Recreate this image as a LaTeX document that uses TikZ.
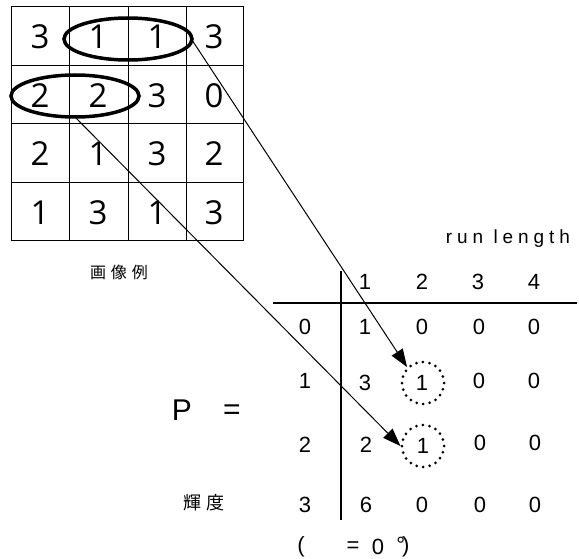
\documentclass[tikz,border=0pt]{standalone}
\usepackage{fontspec}
\usetikzlibrary{arrows.meta}
\newfontfamily\gridfont{Open Sans}
\newfontfamily\arial{Liberation Sans}
\newfontfamily\arialsp[LetterSpace=26]{Liberation Sans}
\newfontfamily\cjk[LetterSpace=30]{Noto Sans CJK JP}
\begin{document}
\begin{tikzpicture}[x=1pt,y=-1pt,
  cell/.style={font=\gridfont\fontsize{33}{33}\selectfont, inner sep=0pt},
  mval/.style={font=\arial\fontsize{22}{22}\selectfont, inner sep=0pt},
  dotcirc/.style={draw, circle, line width=3pt, dash pattern=on 0pt off 6.6pt, line cap=round, minimum size=42pt, inner sep=0pt},
  link/.style={line width=1pt, -{Triangle[length=18pt,width=13pt]}},
  rule/.style={line width=1.2pt}]
\useasboundingbox (0,0) rectangle (579,559);
% grid
\draw[line width=1pt] (11,7) rectangle (243,241);
\foreach \x in {69,128,186} \draw[line width=1pt] (\x,7) -- (\x,241);
\foreach \y in {66,124,183} \draw[line width=1pt] (11,\y) -- (243,\y);
\node[cell] (g11) at (40,37) {3};
\node[cell] (g12) at (98,37) {1};
\node[cell] (g13) at (157,37) {1};
\node[cell] (g14) at (214,37) {3};
\node[cell] (g21) at (40,96) {2};
\node[cell] (g22) at (98,96) {2};
\node[cell] (g23) at (157,96) {3};
\node[cell] (g24) at (214,96) {0};
\node[cell] (g31) at (40,154) {2};
\node[cell] (g32) at (98,154) {1};
\node[cell] (g33) at (157,154) {3};
\node[cell] (g34) at (214,154) {2};
\node[cell] (g41) at (40,213) {1};
\node[cell] (g42) at (98,213) {3};
\node[cell] (g43) at (157,213) {1};
\node[cell] (g44) at (214,213) {3};
% ovals
\draw[line width=3.5pt] (128,39) ellipse [x radius=64, y radius=21];
\draw[line width=3.5pt] (75,96) ellipse [x radius=64, y radius=21];
\coordinate (startA) at (192,40);
\coordinate (startB) at (75,117);
% labels
\node[font=\cjk\fontsize{16}{16}\selectfont, inner sep=0pt] (imglabel) at (119,272) {画像例};
\node[font=\arialsp\fontsize{19}{19}\selectfont, inner sep=0pt] (runlabel) at (508,239) {run length};
\node[font=\arial\fontsize{30}{30}\selectfont, inner sep=0pt] (P) at (182,410) {P};
\node[font=\arial\fontsize{30}{30}\selectfont, inner sep=0pt] (eq) at (232,412) {=};
\node[font=\cjk\fontsize{18}{18}\selectfont, inner sep=0pt] (lum) at (204,503) {輝度};
% matrix rules
\coordinate (hl) at (273,303);
\coordinate (hr) at (577,303);
\coordinate (vt) at (341,271);
\coordinate (vb) at (341,520);
\draw[rule] (hl) -- (hr);
\draw[rule] (vt) -- (vb);
% headers
\node[mval] (h1) at (365,282) {1};
\node[mval] (h2) at (422,282) {2};
\node[mval] (h3) at (478,282) {3};
\node[mval] (h4) at (534,282) {4};
% row labels
\node[mval] (r0) at (305,327) {0};
\node[mval] (r1) at (305,381) {1};
\node[mval] (r2) at (305,445) {2};
\node[mval] (r3) at (305,505) {3};
% values
\node[mval] (m01) at (365,327) {1};
\node[mval] (m02) at (422,327) {0};
\node[mval] (m03) at (479,327) {0};
\node[mval] (m04) at (534,327) {0};
\node[mval] (m11) at (365,383) {3};
\node[mval] (m12) at (422,383) {1};
\node[mval] (m13) at (479,381) {0};
\node[mval] (m14) at (534,381) {0};
\node[mval] (m21) at (366,445) {2};
\node[mval] (m22) at (423,446) {1};
\node[mval] (m23) at (480,443) {0};
\node[mval] (m24) at (535,443) {0};
\node[mval] (m31) at (366,505) {6};
\node[mval] (m32) at (422,505) {0};
\node[mval] (m33) at (480,505) {0};
\node[mval] (m34) at (535,505) {0};
% dotted circles
\node[dotcirc] (c1) at (423,383) {};
\node[dotcirc] (c2) at (423,446) {};
% bottom note
\node[mval] (np1) at (301,547) {(};
\node[mval] (neq) at (353,547) {=};
\node[mval] (nz) at (378,547) {0};
\node[mval] (ndeg) at (403,547) {°\hspace{-3pt})};
% arrows
\draw[link] (startA) -- (c1.north west);
\draw[link] (startB) -- (c2.west);
\end{tikzpicture}
\end{document}
